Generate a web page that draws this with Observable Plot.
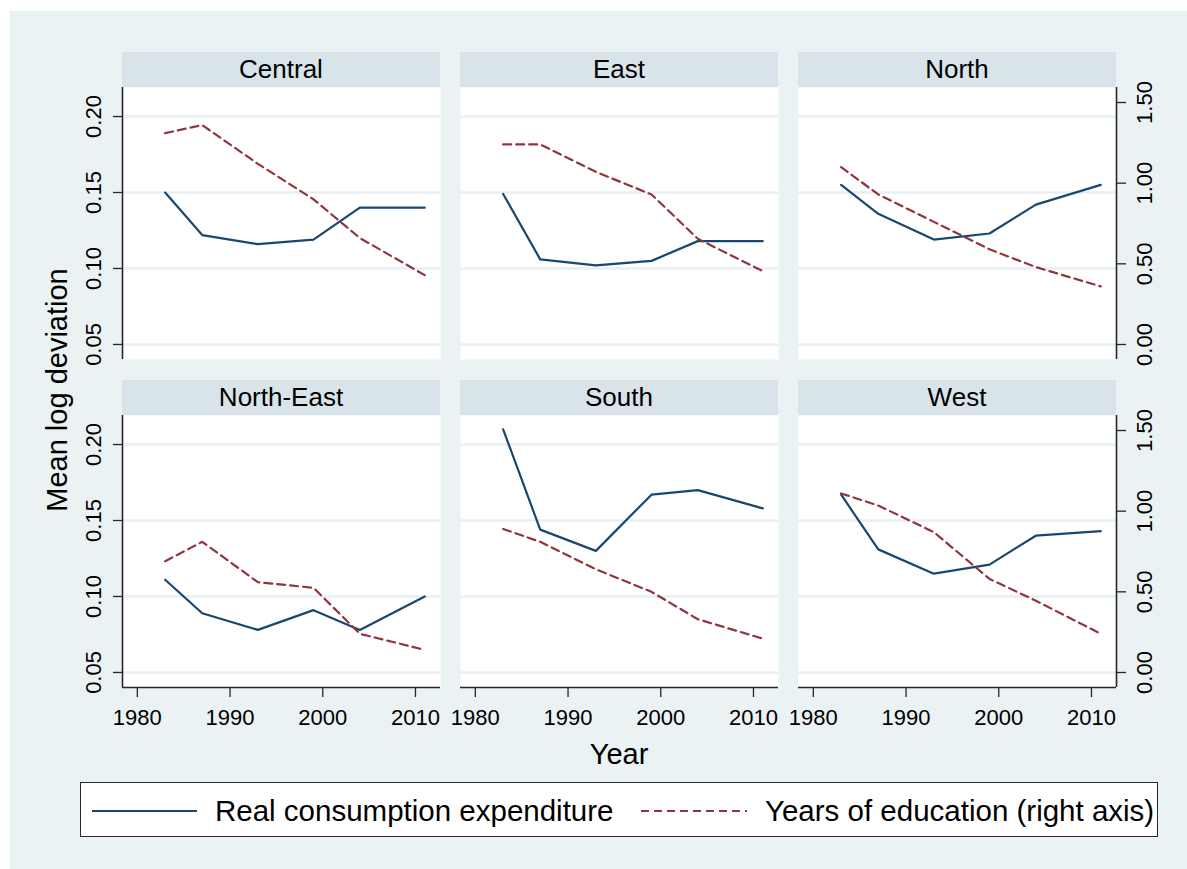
<!DOCTYPE html>
<html>
<head>
<meta charset="utf-8">
<script src="https://cdn.jsdelivr.net/npm/d3@7"></script>
<script src="https://cdn.jsdelivr.net/npm/@observablehq/plot@0.6"></script>
<style>
  html, body { margin: 0; padding: 0; background: #ffffff; }
  #chart { position: relative; width: 1187px; height: 869px; overflow: hidden;
           font-family: Arial, "Liberation Sans", sans-serif; color: #000; }
  #bg { position: absolute; left: 10px; top: 11px; right: 0; bottom: 0; background: #eaf2f3; }
  .hdr { position: absolute; height: 35px; background: #d8e4ea; font-size: 26px;
         line-height: 35px; text-align: center; white-space: nowrap; }
  .panel { position: absolute; }
  .panel svg { position: absolute; left: 0; top: 0; overflow: visible; }
  .ttl { position: absolute; font-size: 29px; line-height: 29px; white-space: nowrap; }
  #legendBox { position: absolute; left: 80px; top: 782px; width: 1078px; height: 55px;
               box-sizing: border-box; background: #fff; border: 1.5px solid #2a2a2a; }
  .leg { position: absolute; font-size: 29.5px; line-height: 29px; white-space: nowrap; }
</style>
</head>
<body>
<div id="chart"><div id="bg"></div></div>
<script>
// ---------------- data ----------------
const years = [1983, 1987, 1993, 1999, 2004, 2011];
const regions = ["Central", "East", "North", "North-East", "South", "West"];

// Real consumption expenditure (mean log deviation, left axis)
const consCentral   = [0.150, 0.122, 0.116, 0.119, 0.140, 0.140];
const consEast      = [0.149, 0.106, 0.102, 0.105, 0.118, 0.118];
const consNorth     = [0.155, 0.136, 0.119, 0.123, 0.142, 0.155];
const consNorthEast = [0.111, 0.089, 0.078, 0.091, 0.078, 0.100];
const consSouth     = [0.210, 0.144, 0.130, 0.167, 0.170, 0.158];
const consWest      = [0.167, 0.131, 0.115, 0.121, 0.140, 0.143];

// Years of education (mean log deviation, right axis)
const educCentral   = [1.31, 1.36, 1.12, 0.90, 0.66, 0.43];
const educEast      = [1.24, 1.24, 1.07, 0.93, 0.655, 0.455];
const educNorth     = [1.10, 0.93, 0.76, 0.59, 0.48, 0.36];
const educNorthEast = [0.69, 0.81, 0.56, 0.525, 0.24, 0.14];
const educSouth     = [0.89, 0.81, 0.64, 0.50, 0.33, 0.21];
const educWest      = [1.11, 1.035, 0.87, 0.58, 0.445, 0.24];

const xTicks = [1980, 1990, 2000, 2010];
const leftTicks = [0.05, 0.10, 0.15, 0.20];
const rightTicks = [0.00, 0.50, 1.00, 1.50];

const seriesNames = ["Real consumption expenditure", "Years of education (right axis)"];
const yTitle = "Mean log deviation";
const xTitle = "Year";

// ---------------- build tables ----------------
const consByRegion = [consCentral, consEast, consNorth, consNorthEast, consSouth, consWest];
const educByRegion = [educCentral, educEast, educNorth, educNorthEast, educSouth, educWest];
const table = (vals) => years.map((y, i) => ({year: y, value: vals[i]}));

// ---------------- layout / style ----------------
const FONT = 'Arial, "Liberation Sans", sans-serif';
const NAVY = "#1a476f", MAROON = "#90353b", GRID = "#e8eff2", AXIS = "#262626";
const colLeft = [122, 460, 798], PW = 318;
const hdrTop = [52, 380], plotTop = [87, 415], PH = 272;
const mL = 70, mR = 70, mB = 60;
const xDomain = [1978.4, 2012.7];
const leftDomain = [0.0401, 0.2191];
const rightDomain = [-0.093, 1.593];

const chart = document.getElementById("chart");

regions.forEach((name, k) => {
  const row = Math.floor(k / 3), col = k % 3;

  const hdr = document.createElement("div");
  hdr.className = "hdr";
  hdr.style.left = colLeft[col] + "px";
  hdr.style.top = hdrTop[row] + "px";
  hdr.style.width = PW + "px";
  hdr.textContent = name;
  chart.appendChild(hdr);

  const panel = document.createElement("div");
  panel.className = "panel";
  panel.style.left = (colLeft[col] - mL) + "px";
  panel.style.top = plotTop[row] + "px";
  panel.style.width = (PW + mL + mR) + "px";
  panel.style.height = (PH + mB) + "px";

  const common = {
    width: PW + mL + mR, height: PH + mB,
    marginLeft: mL, marginRight: mR, marginTop: 0, marginBottom: mB,
    style: {background: "transparent", fontFamily: FONT, fontSize: "22px", color: "#000", overflow: "visible"}
  };

  const leftPlot = Plot.plot({
    ...common,
    x: {domain: xDomain, axis: null, label: null},
    y: {domain: leftDomain, axis: null, label: null},
    marks: [
      Plot.frame({fill: "white", stroke: null}),
      Plot.gridY(leftTicks, {stroke: GRID, strokeOpacity: 1, strokeWidth: 2.5}),
      col === 0 ? Plot.axisY({ticks: leftTicks, tickFormat: d => d.toFixed(2), tickSize: 9, tickPadding: 13,
                              tickRotate: -90, label: null, stroke: AXIS, strokeWidth: 1.3}) : null,
      col === 0 ? Plot.ruleX([xDomain[0]], {stroke: AXIS, strokeWidth: 1.6}) : null,
      row === 1 ? Plot.axisX({ticks: xTicks, tickFormat: d => String(d), tickSize: 10, tickPadding: 12,
                              label: null, stroke: AXIS, strokeWidth: 1.3}) : null,
      row === 1 ? Plot.ruleY([leftDomain[0]], {stroke: AXIS, strokeWidth: 1.6}) : null,
      Plot.line(table(consByRegion[k]), {x: "year", y: "value", stroke: NAVY, strokeWidth: 2.2})
    ].filter(Boolean)
  });

  const rightPlot = Plot.plot({
    ...common,
    x: {domain: xDomain, axis: null, label: null},
    y: {domain: rightDomain, axis: null, label: null},
    marks: [
      col === 2 ? Plot.axisY({anchor: "right", ticks: rightTicks, tickFormat: d => d.toFixed(2), tickSize: 9,
                              tickPadding: 11, tickRotate: -90, lineAnchor: "top", label: null,
                              stroke: AXIS, strokeWidth: 1.3}) : null,
      col === 2 ? Plot.ruleX([xDomain[1]], {stroke: AXIS, strokeWidth: 1.6}) : null,
      Plot.line(table(educByRegion[k]), {x: "year", y: "value", stroke: MAROON, strokeWidth: 2.2,
                                         strokeDasharray: "8,5"})
    ].filter(Boolean)
  });

  panel.appendChild(leftPlot);
  panel.appendChild(rightPlot);
  chart.appendChild(panel);
});

// axis titles
const yt = document.createElement("div");
yt.className = "ttl";
yt.textContent = yTitle;
yt.style.left = "57px";
yt.style.top = "390px";
yt.style.transform = "translate(-50%, -50%) rotate(-90deg)";
chart.appendChild(yt);

const xt = document.createElement("div");
xt.className = "ttl";
xt.textContent = xTitle;
xt.style.left = "619px";
xt.style.top = "739.5px";
xt.style.transform = "translateX(-50%)";
chart.appendChild(xt);

// legend
const lb = document.createElement("div");
lb.id = "legendBox";
chart.appendChild(lb);

function legendItem(x0, x1, textX, color, dash, label) {
  const ns = "http://www.w3.org/2000/svg";
  const svg = document.createElementNS(ns, "svg");
  svg.setAttribute("width", x1 - x0);
  svg.setAttribute("height", 6);
  svg.style.position = "absolute";
  svg.style.left = x0 + "px";
  svg.style.top = "808px";
  const ln = document.createElementNS(ns, "line");
  ln.setAttribute("x1", 0); ln.setAttribute("x2", x1 - x0);
  ln.setAttribute("y1", 3); ln.setAttribute("y2", 3);
  ln.setAttribute("stroke", color); ln.setAttribute("stroke-width", 2.2);
  if (dash) ln.setAttribute("stroke-dasharray", dash);
  svg.appendChild(ln);
  chart.appendChild(svg);
  const t = document.createElement("div");
  t.className = "leg";
  t.textContent = label;
  t.style.left = textX + "px";
  t.style.top = "796px";
  chart.appendChild(t);
}
legendItem(92, 197, 215, NAVY, null, seriesNames[0]);
legendItem(641, 747, 765, MAROON, "8,5", seriesNames[1]);
</script>
</body>
</html>
